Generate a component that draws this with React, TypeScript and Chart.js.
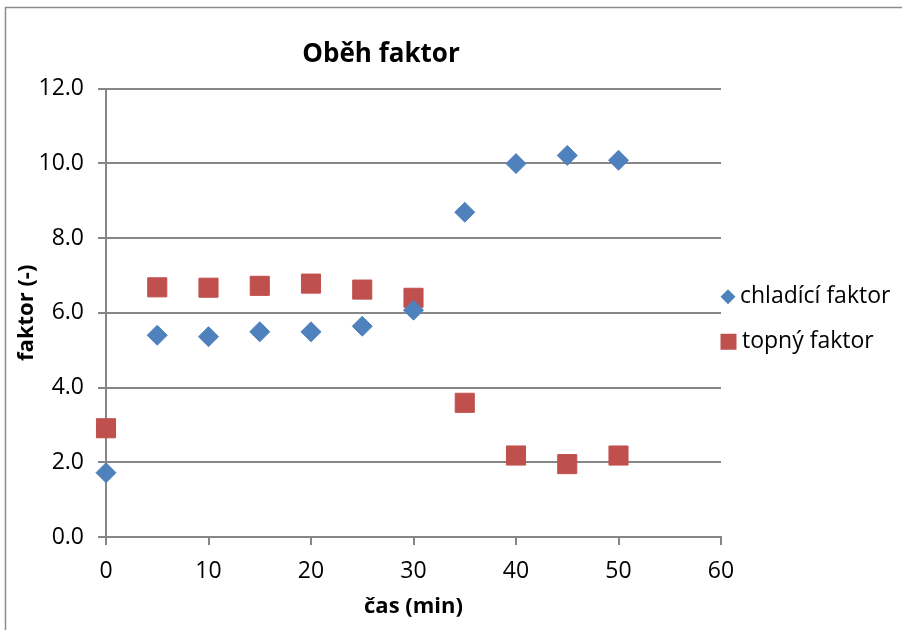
import React, { useEffect, useRef } from "react";
import { Chart, registerables } from "chart.js";

Chart.register(...registerables);

// Time in minutes
const casMin = [0, 5, 10, 15, 20, 25, 30, 35, 40, 45, 50];
// Cooling factor
const chladiciFaktor = [1.72, 5.4, 5.36, 5.49, 5.49, 5.64, 6.07, 8.69, 9.99, 10.21, 10.08];
// Heating factor
const topnyFaktor = [2.91, 6.68, 6.67, 6.72, 6.78, 6.62, 6.4, 3.59, 2.18, 1.95, 2.18];

const yTicks = [0, 2, 4, 6, 8, 10, 12];
const xTicks = [0, 10, 20, 30, 40, 50, 60];

const seriesNames = ["chladící faktor", "topný faktor"];
const chartTitle = "Oběh faktor";
const xTitle = "čas (min)";
const yTitle = "faktor (-)";

const BLUE = "#4F81BD";
const RED = "#C0504D";
const GRID = "#868686";
const FONT = "'Open Sans', 'Noto Sans', sans-serif";

const decorPlugin = {
  id: "decor",
  afterDraw(chart: any) {
    const ctx = chart.ctx as CanvasRenderingContext2D;
    const area = chart.chartArea;
    ctx.save();
    // outer frame
    ctx.strokeStyle = "#8c8c8c";
    ctx.lineWidth = 1.5;
    ctx.strokeRect(5.5, 7.5, 1200, 1200);

    // title
    ctx.fillStyle = "#000";
    ctx.font = `bold 26px ${FONT}`;
    ctx.textAlign = "center";
    ctx.textBaseline = "middle";
    ctx.fillText(chartTitle, 381, 55);

    // legend
    const lx = area.right + 7;
    const midY = (area.top + area.bottom) / 2;
    const rows = [midY - 16, midY + 29];
    ctx.font = `23px ${FONT}`;
    ctx.textAlign = "left";
    ctx.textBaseline = "middle";
    // diamond
    ctx.fillStyle = BLUE;
    ctx.beginPath();
    ctx.moveTo(lx, rows[0] - 7.5);
    ctx.lineTo(lx + 7.5, rows[0]);
    ctx.lineTo(lx, rows[0] + 7.5);
    ctx.lineTo(lx - 7.5, rows[0]);
    ctx.closePath();
    ctx.fill();
    ctx.fillStyle = "#000";
    ctx.fillText(seriesNames[0], lx + 12, rows[0]);
    // square
    ctx.fillStyle = RED;
    ctx.fillRect(lx - 7.5, rows[1] - 8, 16, 16);
    ctx.fillStyle = "#000";
    ctx.fillText(seriesNames[1], lx + 14, rows[1]);
    ctx.restore();
  },
};

export default function App() {
  const ref = useRef<HTMLCanvasElement>(null);

  useEffect(() => {
    document.body.style.margin = "0";
    const canvas = ref.current!;
    const chart = new Chart(canvas, {
      type: "scatter",
      data: {
        datasets: [
          {
            label: seriesNames[0],
            data: casMin.map((x, i) => ({ x, y: chladiciFaktor[i] })),
            pointStyle: "rectRot",
            pointRadius: 10,
            backgroundColor: BLUE,
            borderColor: BLUE,
            borderWidth: 1,
            clip: false,
          },
          {
            label: seriesNames[1],
            data: casMin.map((x, i) => ({ x, y: topnyFaktor[i] })),
            pointStyle: "rect",
            pointRadius: 13.5,
            backgroundColor: RED,
            borderColor: RED,
            borderWidth: 1,
            clip: false,
          },
        ],
      },
      options: {
        responsive: false,
        animation: false,
        layout: { padding: { left: 0, top: 88.5, right: 181, bottom: 0 } },
        plugins: {
          legend: { display: false },
          title: { display: false },
          tooltip: { enabled: false },
        },
        scales: {
          x: {
            type: "linear",
            min: xTicks[0],
            max: xTicks[xTicks.length - 1],
            afterFit: (s: any) => {
              s.height = 93;
            },
            afterBuildTicks: (s: any) => {
              s.ticks = xTicks.map((v) => ({ value: v }));
            },
            ticks: {
              color: "#000",
              font: { family: FONT, size: 23 },
              padding: 13,
              maxRotation: 0,
            },
            grid: {
              drawOnChartArea: false,
              drawTicks: true,
              tickLength: 8,
              color: GRID,
              lineWidth: 2,
            },
            border: { color: GRID, width: 2 },
            title: {
              display: true,
              text: xTitle,
              color: "#000",
              font: { family: FONT, size: 22, weight: "bold" },
              padding: { top: 0, bottom: 10 },
            },
          },
          y: {
            type: "linear",
            min: yTicks[0],
            max: yTicks[yTicks.length - 1],
            afterFit: (s: any) => {
              s.width = 106;
            },
            afterBuildTicks: (s: any) => {
              s.ticks = yTicks.map((v) => ({ value: v }));
            },
            ticks: {
              color: "#000",
              font: { family: FONT, size: 23 },
              padding: 14,
              callback: (v: any) => Number(v).toFixed(1),
            },
            grid: {
              drawOnChartArea: true,
              drawTicks: true,
              tickLength: 8,
              color: GRID,
              lineWidth: 2,
            },
            border: { color: GRID, width: 2 },
            title: {
              display: true,
              text: yTitle,
              color: "#000",
              font: { family: FONT, size: 22, weight: "bold" },
              padding: { top: 14, bottom: 0 },
            },
          },
        },
      },
      plugins: [decorPlugin],
    });
    return () => chart.destroy();
  }, []);

  return (
    <div style={{ position: "absolute", left: 0, top: 0, width: 902, height: 630, background: "#fff" }}>
      <canvas ref={ref} width={902} height={630} style={{ display: "block", width: 902, height: 630 }} />
    </div>
  );
}
